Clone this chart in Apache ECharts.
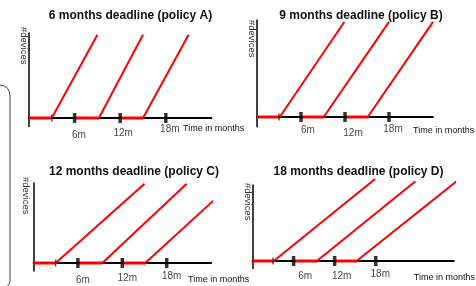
<!DOCTYPE html>
<html>
<head>
<meta charset="utf-8">
<script src="https://cdn.jsdelivr.net/npm/echarts@6/dist/echarts.min.js"></script>
<style>
  html, body { margin: 0; padding: 0; background: #fff; }
  #main { width: 476px; height: 286px; }
</style>
</head>
<body>
<div id="main"></div>
<script>
// chart data
const titles = [
  '6 months deadline (policy A)',
  '9 months deadline (policy B)',
  '12 months deadline (policy C)',
  '18 months deadline (policy D)'
];
const tickMonths = [6, 12, 18];
const tickLabels = ['6m', '12m', '18m'];
const startTick = [3];
const xName = 'Time in months';
const yName = '#devices';
// each wave: [release month, end of flat part, month at top, height at top]
const wavesA = [[0, 3, 9, 9.8], [6, 9.2, 15, 9.8], [12, 15, 21, 9.8]];
const wavesB = [[0, 3.1, 11.9, 9.8], [6, 9.1, 18, 9.8], [12, 15.1, 24, 9.8]];
const wavesC = [[0, 3, 15, 9.9], [6, 9.3, 20.7, 9.9], [12, 15.1, 26.8, 9.9]];
const wavesD = [[0, 3.1, 17.9, 10.8], [6, 9.4, 23.8, 10.5], [12, 15.2, 29.8, 10.5]];
const xMax = [24, 24, 24, 29.4];

const allWaves = [wavesA, wavesB, wavesC, wavesD];

// layout per panel (pixels)
const layout = [
  { left: 29, top: 33, width: 182.4, height: 93.5, tx: 130.5, ty: 10,
    gapX: -28.4, padX: 6, gapY: 6, padY: 0, nudge: [[4.4, 17], [3, 15], [4, 11]] },
  { left: 257, top: 20, width: 176, height: 106.7, tx: 361, ty: 10,
    gapX: -20, padX: 9, gapY: 0, padY: 0, nudge: [[7, 13], [8, 16], [4, 12]] },
  { left: 33.5, top: 183, width: 177.6, height: 88, tx: 134, ty: 166,
    gapX: -23, padX: 12, gapY: 6, padY: 3, nudge: [[5, 17], [5, 15], [5, 13]] },
  { left: 252.5, top: 185, width: 205.8, height: 83.6, tx: 358.5, ty: 166,
    gapX: -40, padX: 12, gapY: 2, padY: 0, nudge: [[11.5, 15], [7, 15], [4.5, 13]] }
];

const RED = '#ff0000';
const INK = '#111';
const SANS = '"Liberation Sans", Arial, sans-serif';

const chart = echarts.init(document.getElementById('main'));

const grid = [], xAxis = [], yAxis = [], title = [], series = [];

layout.forEach((L, i) => {
  grid.push({ left: L.left, top: L.top, width: L.width, height: L.height, containLabel: false });
  title.push({
    text: titles[i], left: L.tx, top: L.ty, textAlign: 'center', padding: 0,
    textStyle: { fontSize: 12, fontWeight: 'bold', color: INK, fontFamily: SANS }
  });
  xAxis.push({
    type: 'value', gridIndex: i, min: 0, max: xMax[i],
    name: xName, nameLocation: 'end', nameGap: L.gapX,
    nameTextStyle: { align: 'left', verticalAlign: 'top', padding: [L.padX, 0, 0, 0],
      fontSize: 9, color: INK, fontFamily: SANS },
    axisLine: { show: true, onZero: true, lineStyle: { color: '#000', width: 1.8 } },
    axisTick: { show: false }, axisLabel: { show: false }, splitLine: { show: false }
  });
  yAxis.push({
    type: 'value', gridIndex: i, min: -1, max: 10,
    name: yName, nameLocation: 'end', nameGap: L.gapY, nameRotate: -90,
    nameTextStyle: { align: 'left', verticalAlign: 'top', padding: [L.padY, 0, 0, 0],
      fontSize: 9.5, color: '#333', fontFamily: SANS },
    axisLine: { show: true, lineStyle: { color: '#000', width: 1.5 } },
    axisTick: { show: false }, axisLabel: { show: false }, splitLine: { show: false }
  });

  allWaves[i].forEach(w => {
    series.push({
      type: 'line', xAxisIndex: i, yAxisIndex: i, symbol: 'none', clip: false, z: 2,
      data: [[w[1], 0], [w[2], w[3]]],
      lineStyle: { color: RED, width: 2 }
    });
    series.push({
      type: 'line', xAxisIndex: i, yAxisIndex: i, symbol: 'none', clip: false, z: 2,
      data: [[w[0], 0], [w[1], 0]],
      lineStyle: { color: RED, width: 3 }
    });
  });

  series.push({
    type: 'scatter', xAxisIndex: i, yAxisIndex: i, symbol: 'rect', symbolSize: [3.5, 10],
    clip: false, z: 3, itemStyle: { color: '#000' },
    data: tickMonths.map((m, k) => ({ value: [m, 0], label: { offset: L.nudge[k] } })),
    label: {
      show: true, position: 'inside', formatter: p => tickLabels[p.dataIndex],
      fontSize: 10, color: INK, fontFamily: SANS
    }
  });
  series.push({
    type: 'scatter', xAxisIndex: i, yAxisIndex: i, symbol: 'rect', symbolSize: [1.4, 7],
    clip: false, z: 3, itemStyle: { color: '#222' },
    data: startTick.map(m => [m, 0])
  });
});

// bracket on the left edge
const bracketStyle = { fill: null, stroke: '#444', lineWidth: 1 };
const option = {
  animation: false,
  backgroundColor: '#fff',
  title: title,
  grid: grid,
  xAxis: xAxis,
  yAxis: yAxis,
  series: series,
  graphic: [
    { type: 'bezierCurve', shape: { x1: 0, y1: 85, cpx1: 10, cpy1: 86, x2: 10, y2: 96 }, style: bracketStyle },
    { type: 'line', shape: { x1: 10, y1: 96, x2: 10, y2: 281 }, style: bracketStyle },
    { type: 'bezierCurve', shape: { x1: 10, y1: 281, cpx1: 10, cpy1: 284, x2: 7.5, y2: 286 }, style: bracketStyle }
  ]
};
chart.setOption(option);
</script>
</body>
</html>
